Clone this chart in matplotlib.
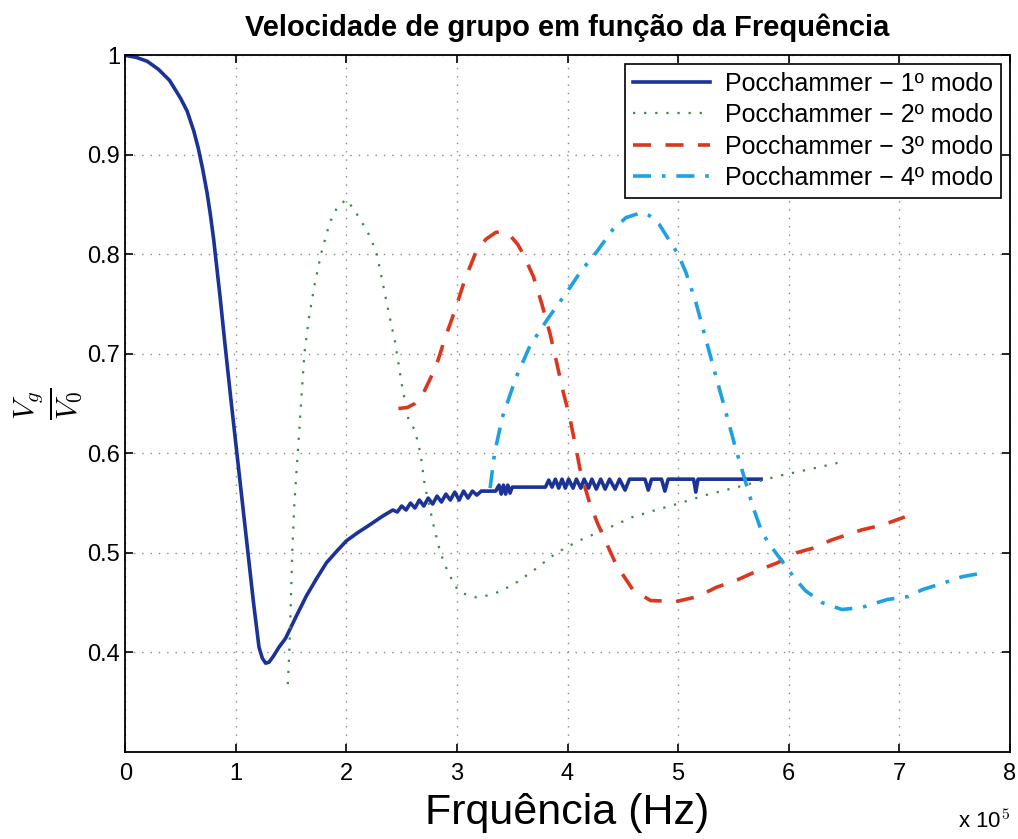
import numpy as np
import matplotlib
matplotlib.use("Agg")
import matplotlib.pyplot as plt
from matplotlib.ticker import FuncFormatter

# frequencia em unidades de 1e5 Hz, velocidade normalizada Vg/V0
f_modo1 = [0, 0.1, 0.2, 0.3, 0.4, 0.5, 0.56, 0.62, 0.66, 0.70, 0.74, 0.77, 0.8, 0.83, 0.86,
           0.9, 0.95, 1.01, 1.06, 1.11, 1.16, 1.21, 1.24, 1.27, 1.30, 1.34, 1.39,
           1.45, 1.55, 1.64, 1.73, 1.82, 1.9, 2.0, 2.1, 2.21, 2.33, 2.42,
           2.46, 2.50, 2.54, 2.58, 2.62, 2.66, 2.70, 2.74, 2.78, 2.82, 2.86, 2.90,
           2.94, 2.98, 3.02, 3.06, 3.10, 3.14, 3.18, 3.22, 3.35, 3.38, 3.40, 3.42,
           3.44, 3.46, 3.48, 3.50, 3.80, 3.83, 3.86, 3.89, 3.92, 3.95, 3.98, 4.01,
           4.05, 4.08, 4.12, 4.15, 4.19, 4.22, 4.26, 4.30, 4.34, 4.38, 4.43, 4.47,
           4.52, 4.56, 4.70, 4.73, 4.76, 4.85, 4.88, 4.91, 5.14, 5.16, 5.18, 5.75]
v_modo1 = [1.0, 0.998, 0.994, 0.986, 0.975, 0.957, 0.944, 0.924, 0.907, 0.886, 0.862, 0.84,
           0.815, 0.785, 0.755, 0.712, 0.66, 0.6, 0.55, 0.5, 0.45, 0.405, 0.394, 0.389,
           0.39, 0.396, 0.405, 0.414, 0.437, 0.457, 0.474, 0.49, 0.5, 0.512, 0.52, 0.528,
           0.537, 0.543,
           0.541, 0.547, 0.543, 0.550, 0.545, 0.553, 0.547, 0.555, 0.549, 0.557, 0.551,
           0.559, 0.553, 0.561, 0.553, 0.562, 0.555, 0.562, 0.558, 0.562, 0.562, 0.568,
           0.559, 0.568, 0.559, 0.568, 0.560, 0.566, 0.566, 0.573, 0.566, 0.574, 0.565,
           0.574, 0.565, 0.574, 0.565, 0.574, 0.565, 0.574, 0.565, 0.574, 0.564, 0.574,
           0.564, 0.574, 0.564, 0.574, 0.563, 0.574, 0.574, 0.563, 0.574, 0.574, 0.562,
           0.574, 0.574, 0.561, 0.574, 0.574]

f_modo2 = [1.47, 1.48, 1.49, 1.51, 1.53, 1.56, 1.59, 1.62, 1.66, 1.71, 1.77, 1.85, 1.92,
           2.0, 2.07, 2.19, 2.27, 2.32, 2.38, 2.44, 2.5, 2.56, 2.62, 2.67, 2.71, 2.79,
           2.85, 2.92, 3.01, 3.1, 3.18, 3.27, 3.36, 3.51, 3.69, 3.9, 4.1, 4.33, 4.59,
           4.8, 5.02, 5.25, 5.57, 5.9, 6.23, 6.51]
v_modo2 = [0.368, 0.39, 0.42, 0.5, 0.55, 0.6, 0.65, 0.7, 0.735, 0.768, 0.8, 0.832, 0.848,
           0.855, 0.845, 0.823, 0.803, 0.776, 0.743, 0.712, 0.67, 0.635, 0.623, 0.6,
           0.567, 0.527, 0.5, 0.48, 0.462, 0.457, 0.455, 0.457, 0.46, 0.468, 0.482,
           0.5, 0.512, 0.523, 0.536, 0.543, 0.55, 0.558, 0.567, 0.577, 0.585, 0.592]

f_modo3 = [2.47, 2.55, 2.62, 2.69, 2.81, 2.89, 2.98, 3.07, 3.17, 3.26, 3.35, 3.41, 3.48,
           3.55, 3.6, 3.69, 3.76, 3.84, 3.9, 3.96, 4.02, 4.08, 4.12, 4.2, 4.27, 4.33,
           4.44, 4.59, 4.75, 4.98, 5.18, 5.34, 5.54, 5.74, 5.9, 6.07, 6.23, 6.39, 6.66,
           6.85, 7.05]
v_modo3 = [0.645, 0.646, 0.65, 0.659, 0.687, 0.715, 0.743, 0.774, 0.802, 0.815, 0.822,
           0.823, 0.819, 0.81, 0.8, 0.778, 0.753, 0.721, 0.692, 0.662, 0.636, 0.603,
           0.58, 0.55, 0.53, 0.515, 0.488, 0.463, 0.452, 0.451, 0.456, 0.465, 0.473,
           0.483, 0.49, 0.5, 0.505, 0.513, 0.523, 0.528, 0.536]

f_modo4 = [3.3, 3.34, 3.41, 3.53, 3.66, 3.82, 4.0, 4.12, 4.26, 4.41, 4.53, 4.67, 4.74,
           4.83, 4.92, 5.0, 5.07, 5.16, 5.25, 5.34, 5.43, 5.52, 5.6, 5.68, 5.76, 5.85,
           5.95, 6.05, 6.15, 6.3, 6.48, 6.66, 6.89, 7.08, 7.21, 7.41, 7.57, 7.77]
v_modo4 = [0.565, 0.6, 0.636, 0.675, 0.708, 0.735, 0.763, 0.783, 0.802, 0.825, 0.837,
           0.842, 0.839, 0.83, 0.814, 0.8, 0.782, 0.752, 0.715, 0.678, 0.642, 0.605,
           0.575, 0.545, 0.52, 0.505, 0.49, 0.475, 0.462, 0.45, 0.443, 0.445, 0.453,
           0.456, 0.463, 0.47, 0.476, 0.48]

rotulos = ['Pocchammer \u2212 1\u00ba modo', 'Pocchammer \u2212 2\u00ba modo',
           'Pocchammer \u2212 3\u00ba modo', 'Pocchammer \u2212 4\u00ba modo']

plt.rcParams['font.family'] = ['Liberation Sans', 'DejaVu Sans']
plt.rcParams['mathtext.fontset'] = 'cm'

fig = plt.figure(figsize=(10.18, 8.39), dpi=100)
ax = fig.add_axes([0.123, 0.104, 0.869, 0.830])

esc = 1e5
ax.plot(np.array(f_modo1) * esc, v_modo1, color='#1b3296', lw=2.6, label=rotulos[0])
ax.plot(np.array(f_modo2) * esc, v_modo2, color='#3a8a48', lw=1.6, ls=(0, (1, 4)), label=rotulos[1])
ax.plot(np.array(f_modo3) * esc, v_modo3, color='#d8381f', lw=2.6, ls=(0, (5, 4)), label=rotulos[2])
ax.plot(np.array(f_modo4) * esc, v_modo4, color='#1fa0e0', lw=2.6, ls=(0, (5, 3, 1, 3)), label=rotulos[3])

ax.set_xlim(0, 8e5)
ax.set_ylim(0.3, 1.0)
ax.set_xticks(np.arange(0, 9) * esc)
ax.set_yticks([0.4, 0.5, 0.6, 0.7, 0.8, 0.9, 1.0])
ax.xaxis.set_major_formatter(FuncFormatter(lambda x, p: '%g' % (x / esc)))
ax.yaxis.set_major_formatter(FuncFormatter(lambda y, p: '%g' % y))
ax.tick_params(direction='in', length=6, labelsize=17, top=True, right=True, width=1.2)
ax.tick_params(axis='x', pad=8)
ax.grid(True, ls=(0, (1, 5)), color='#888888', lw=1.0)
for s in ax.spines.values():
    s.set_linewidth(1.3)

ax.set_title('Velocidade de grupo em função da Frequência', fontsize=21, fontweight='bold', pad=14)
ax.set_xlabel('Frquência (Hz)', fontsize=31, labelpad=6)
ax.set_ylabel(r'$\frac{V_g}{V_0}$', fontsize=31, labelpad=2)
ax.text(1.0, -0.10, r'x 10$^5$', transform=ax.transAxes, fontsize=16, ha='right', va='center')

leg = ax.legend(loc='upper right', fontsize=18, fancybox=False, framealpha=1,
                edgecolor='black', handlelength=3.1, borderpad=0.3, labelspacing=0.3,
                borderaxespad=0.35, handletextpad=0.6)
leg.get_frame().set_linewidth(1.2)

fig.savefig('out.png', dpi=100)
